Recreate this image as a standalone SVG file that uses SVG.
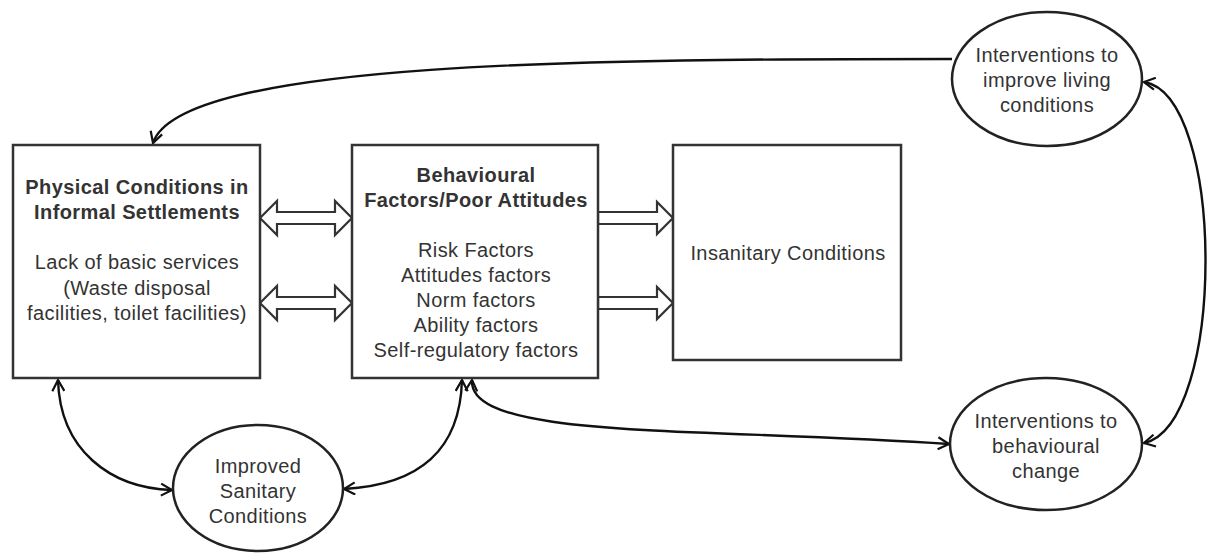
<svg xmlns="http://www.w3.org/2000/svg" width="1208" height="558" viewBox="0 0 1208 558">
<style>
.box{fill:#fff;stroke:#333;stroke-width:2.5}
.ell{fill:#fff;stroke:#222;stroke-width:2.5}
.hol{fill:#fff;stroke:#333;stroke-width:2.2;stroke-linejoin:miter}
.t{font-family:"Liberation Sans",Arial,sans-serif;font-size:20px;fill:#333;text-anchor:middle;letter-spacing:0.4px}
.b{font-weight:bold}
.con{fill:none;stroke:#111;stroke-width:2.4}
</style>
<defs>
<marker id="open" viewBox="0 0 14 14" refX="12" refY="7" markerWidth="14" markerHeight="14" markerUnits="userSpaceOnUse" orient="auto-start-reverse">
<path d="M1,1 L12,7 L1,13" fill="none" stroke="#111" stroke-width="2.2"/>
</marker>
</defs>
<rect width="1208" height="558" fill="#fff"/>
<g id="connectors">
<path class="con" d="M952,59 C600,59 180,60 153,143" marker-end="url(#open)"/>
<path class="con" d="M1144,82 C1226,95 1226,425 1144,443" marker-start="url(#open)" marker-end="url(#open)"/>
<path class="con" d="M58,380 C60,450 110,488 172,490" marker-start="url(#open)" marker-end="url(#open)"/>
<path class="con" d="M462,380 C460,450 420,485 344,489" marker-start="url(#open)" marker-end="url(#open)"/>
<path class="con" d="M472,380 C468,440 700,427 949,444" marker-start="url(#open)" marker-end="url(#open)"/>
<polygon class="hol" points="260,218 277,201 277,212 335,212 335,201 352,218 335,235 335,224 277,224 277,235"/>
<polygon class="hol" points="260,303 277,286 277,297 335,297 335,286 352,303 335,320 335,309 277,309 277,320"/>
<polygon class="hol" points="598,212 657,212 657,202 673,218 657,234 657,224 598,224"/>
<polygon class="hol" points="598,297 657,297 657,287 673,303 657,319 657,309 598,309"/>
</g>
<g id="physical">
<rect class="box" x="13" y="145" width="247" height="233"/>
<text class="t b" x="137" y="194">Physical Conditions in</text>
<text class="t b" x="137" y="219">Informal Settlements</text>
<text class="t" x="137" y="269">Lack of basic services</text>
<text class="t" x="137" y="295">(Waste disposal</text>
<text class="t" x="137" y="320">facilities, toilet facilities)</text>
</g>
<g id="behavioural">
<rect class="box" x="352" y="145" width="246" height="233"/>
<text class="t b" x="476" y="182">Behavioural</text>
<text class="t b" x="476" y="207">Factors/Poor Attitudes</text>
<text class="t" x="476" y="257">Risk Factors</text>
<text class="t" x="476" y="282">Attitudes factors</text>
<text class="t" x="476" y="307">Norm factors</text>
<text class="t" x="476" y="332">Ability factors</text>
<text class="t" x="476" y="357">Self-regulatory factors</text>
</g>
<g id="insanitary">
<rect class="box" x="673" y="145" width="228" height="215"/>
<text class="t" x="788" y="260">Insanitary Conditions</text>
</g>
<g id="living">
<ellipse class="ell" cx="1047" cy="79" rx="95" ry="67"/>
<text class="t" x="1047" y="62">Interventions to</text>
<text class="t" x="1047" y="87">improve living</text>
<text class="t" x="1047" y="112">conditions</text>
</g>
<g id="behaviourchange">
<ellipse class="ell" cx="1046" cy="444" rx="96" ry="66"/>
<text class="t" x="1046" y="428">Interventions to</text>
<text class="t" x="1046" y="453">behavioural</text>
<text class="t" x="1046" y="478">change</text>
</g>
<g id="sanitary">
<ellipse class="ell" cx="258" cy="488" rx="85" ry="63"/>
<text class="t" x="258" y="473">Improved</text>
<text class="t" x="258" y="498">Sanitary</text>
<text class="t" x="258" y="523">Conditions</text>
</g>
</svg>
